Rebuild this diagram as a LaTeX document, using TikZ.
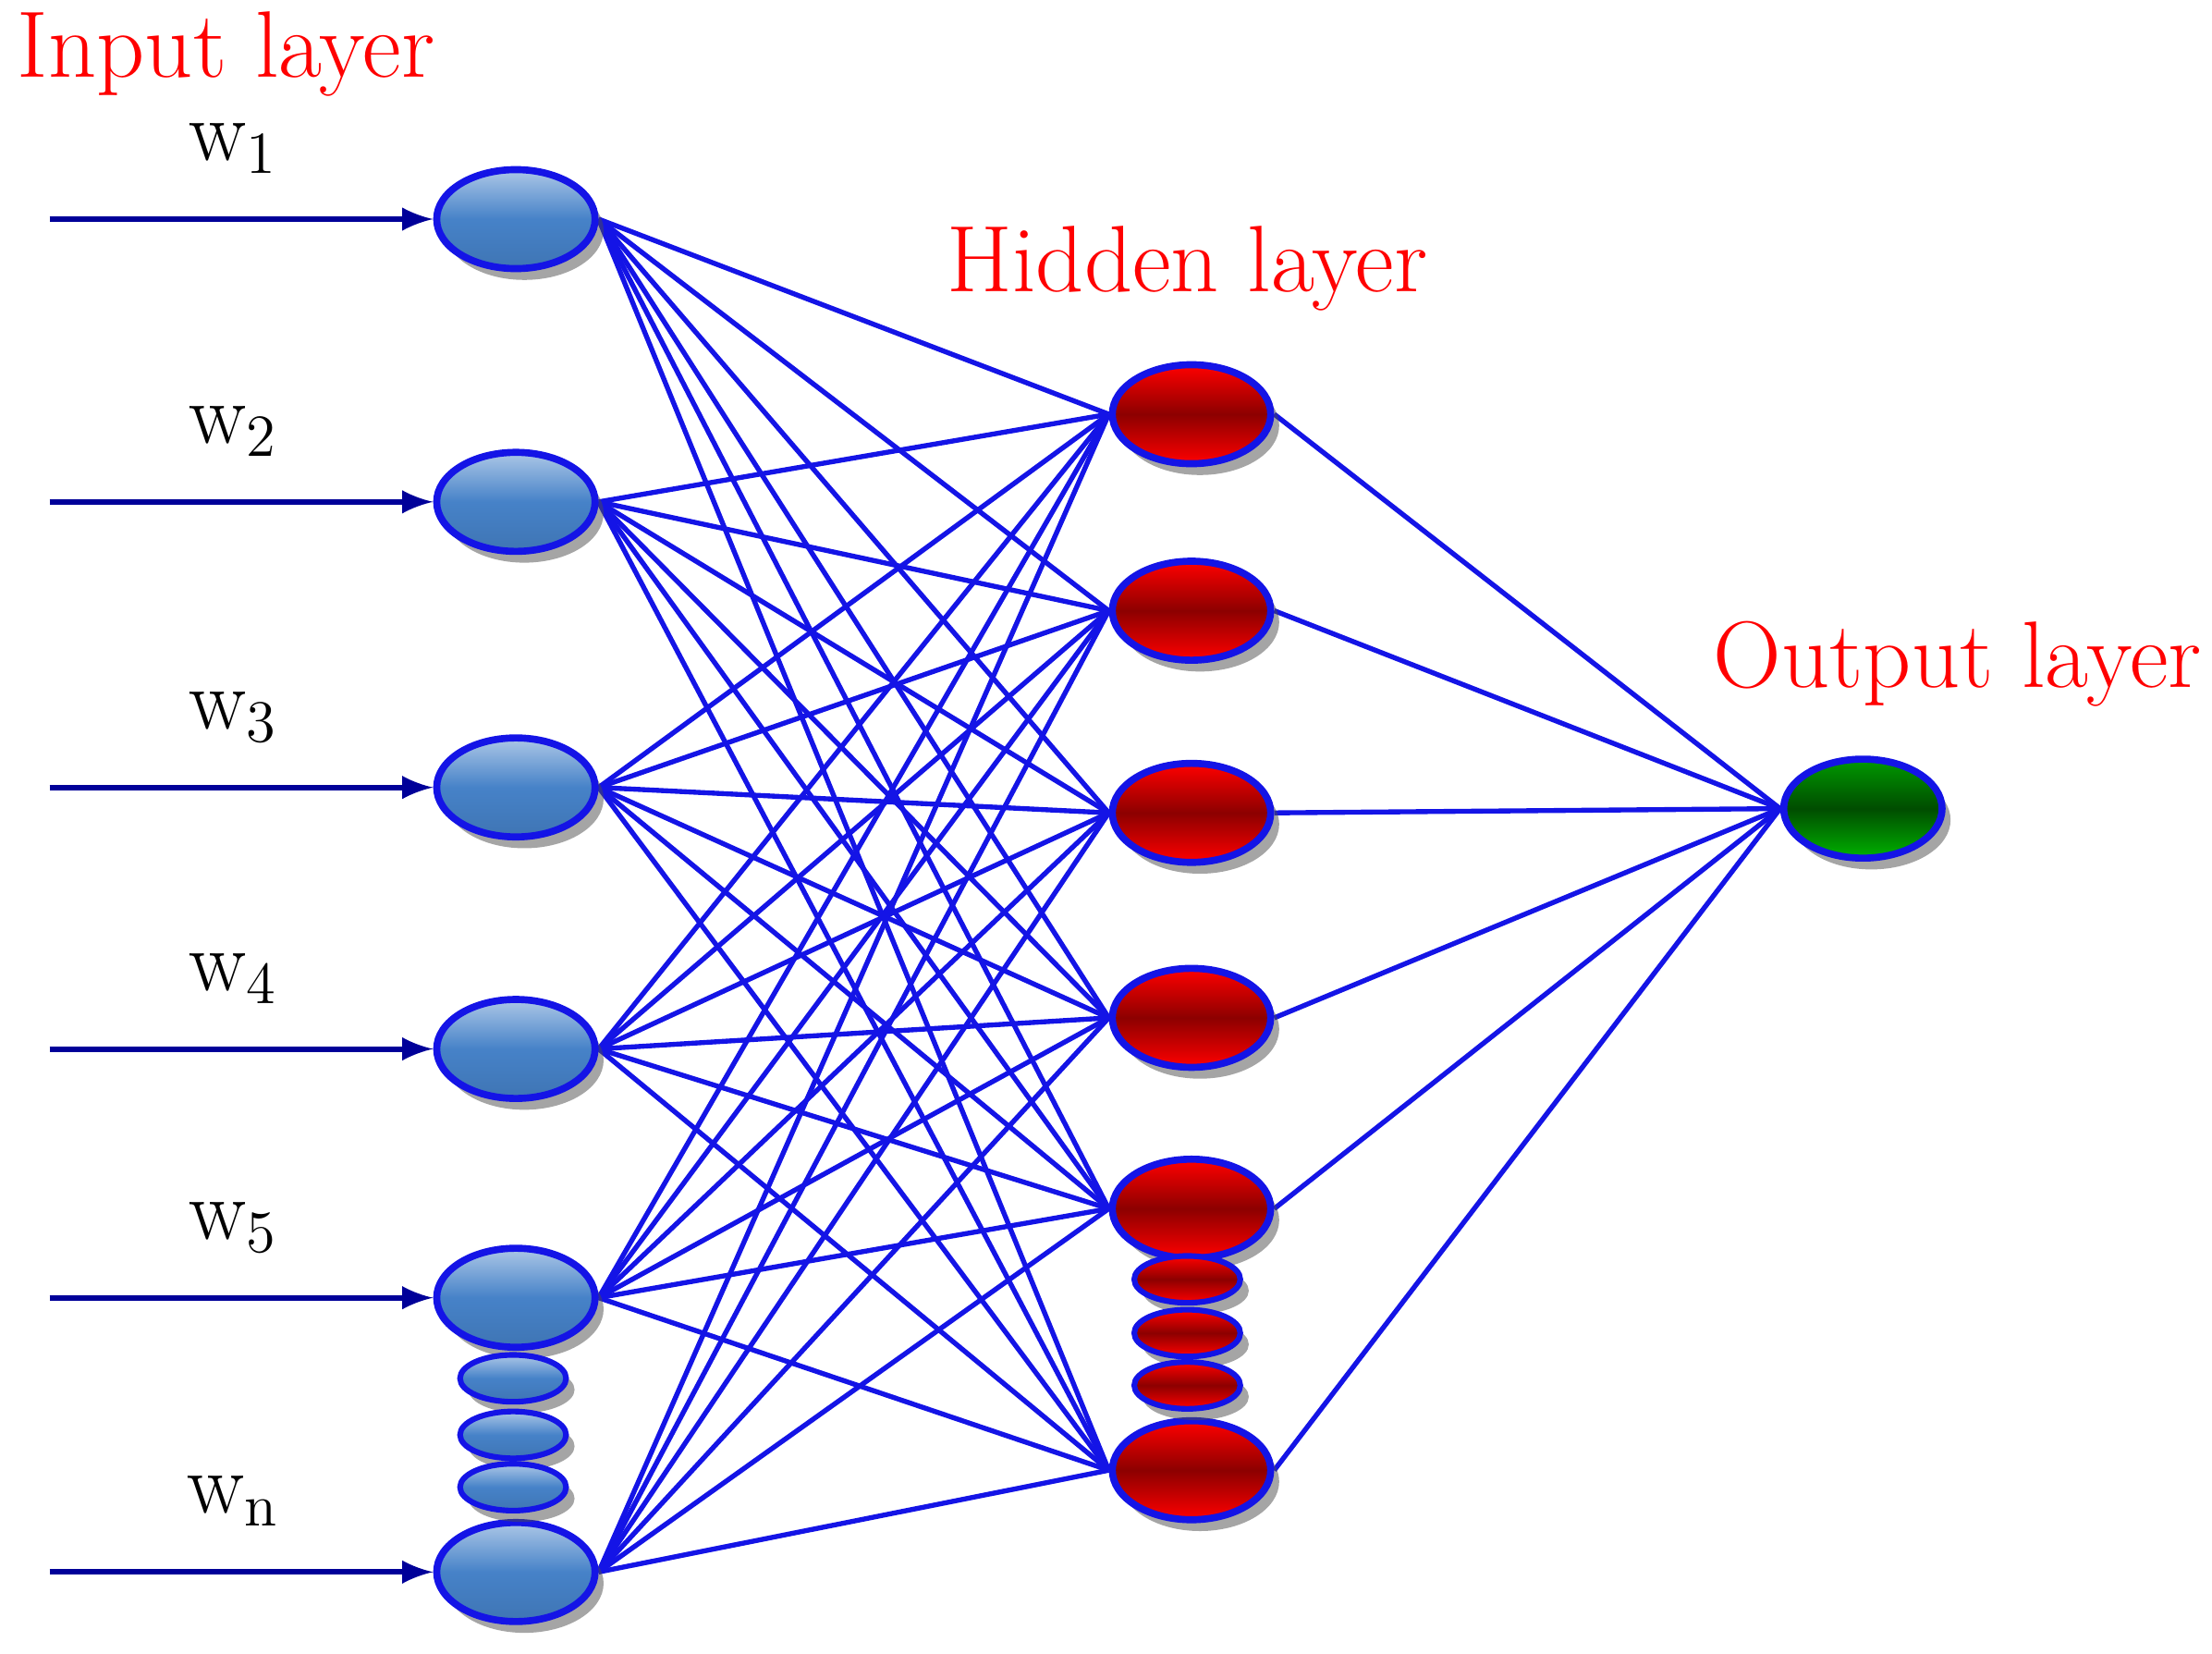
\documentclass[tikz,border=0pt]{standalone}
\usetikzlibrary{shadows,shapes.geometric,backgrounds}
\definecolor{inblue}{RGB}{70,130,200}
\definecolor{linkblue}{RGB}{20,20,230}
\begin{document}
\begin{tikzpicture}[x=0.01cm,y=-0.01cm,
  neuron/.style={ellipse, draw=linkblue, line width=0.5mm, minimum width=1.12cm,
    minimum height=0.7cm, drop shadow={shadow xshift=0.6mm, shadow yshift=-0.8mm, fill=black!70}},
  inp/.style={neuron, top color=inblue!45, bottom color=inblue!90!black, middle color=inblue},
  hid/.style={neuron, top color=red, bottom color=red, middle color=red!55!black},
  outn/.style={neuron, top color=green!60!black, bottom color=green!70!black, middle color=green!30!black},
  dot/.style={minimum width=0.75cm, minimum height=0.3cm, line width=0.4mm},
  link/.style={linkblue, line width=0.35mm},
  feed/.style={draw=blue!60!black, line width=0.4mm, -latex},
  title/.style={text=red, font=\fontsize{19}{21}\selectfont},
  wlab/.style={font=\fontsize{17}{19}\selectfont}]

  \useasboundingbox (0,0) rectangle (1565,1170);

  % Titles
  \node[title] at (160,38) {Input layer};
  \node[title] at (840,190) {Hidden layer};
  \node[title] at (1385,470) {Output layer};

  % Input layer
  \foreach \i/\y/\w in {1/155/1, 2/355/2, 3/557/3, 4/742/4, 5/918/5, 6/1112/n} {
    \node[inp] (in\i) at (365,\y) {};
    \coordinate (src\i) at (35,\y);
    \draw[feed] (src\i) -- (in\i.west);
    \node[wlab] at (165,\y-50) {$\mathrm{w}_{\mathrm{\w}}$};
  }
  \foreach \y [count=\k] in {975,1015,1052}
    \node[inp, dot] (ind\k) at (363,\y) {};

  % Hidden layer
  \foreach \j/\y in {1/293, 2/432, 3/575, 4/720, 5/855, 6/1040}
    \node[hid] (hd\j) at (843,\y) {};
  \foreach \y [count=\k] in {905,943,980}
    \node[hid, dot] (hdd\k) at (840,\y) {};

  % Output layer
  \node[outn] (out) at (1318,572) {};

  % Connections
  \begin{pgfonlayer}{background}
  \foreach \i in {1,...,6}
    \foreach \j in {1,...,6}
      \draw[link] (in\i.east) -- (hd\j.west);
  \foreach \j in {1,...,6}
    \draw[link] (hd\j.east) -- (out.west);
  \end{pgfonlayer}

\end{tikzpicture}
\end{document}
